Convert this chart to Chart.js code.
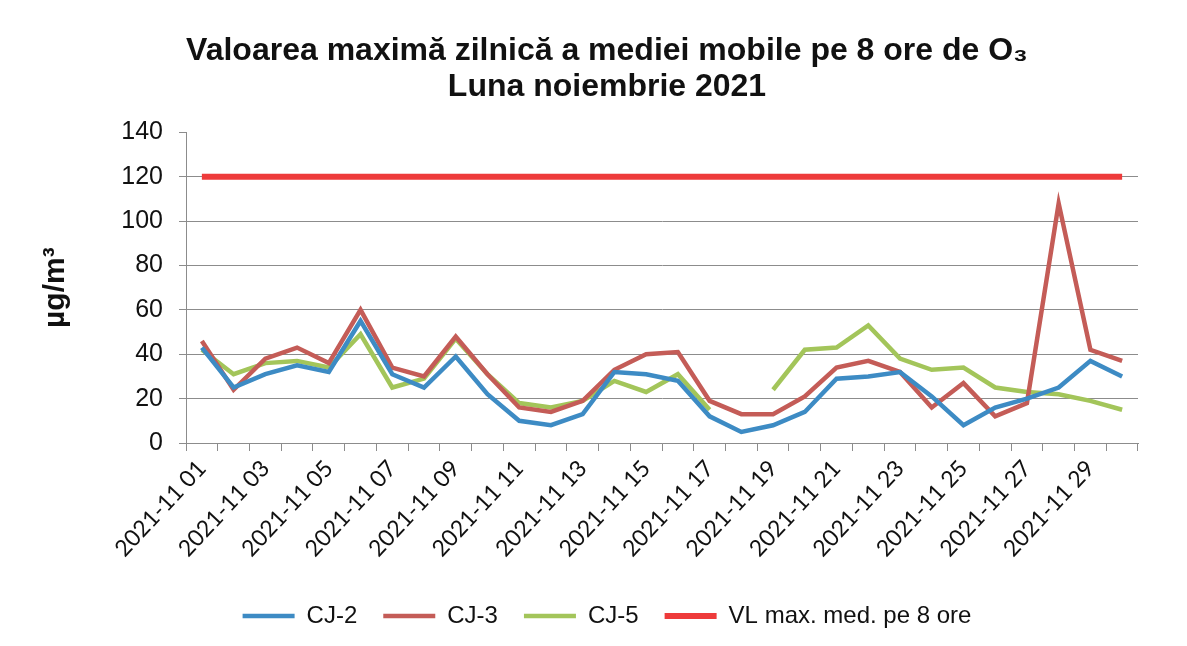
<!DOCTYPE html>
<html>
<head>
<meta charset="utf-8">
<script src="https://cdn.jsdelivr.net/npm/chart.js@4/dist/chart.umd.min.js"></script>
<style>
  html, body { margin: 0; padding: 0; background: #ffffff; }
  #wrap { width: 1187px; height: 646px; position: relative; }
</style>
</head>
<body>
<div id="wrap"><canvas id="c" width="1187" height="646"></canvas></div>
<script>
const days = ['2021-11 01','2021-11 02','2021-11 03','2021-11 04','2021-11 05','2021-11 06','2021-11 07','2021-11 08','2021-11 09','2021-11 10',
              '2021-11 11','2021-11 12','2021-11 13','2021-11 14','2021-11 15','2021-11 16','2021-11 17','2021-11 18','2021-11 19','2021-11 20',
              '2021-11 21','2021-11 22','2021-11 23','2021-11 24','2021-11 25','2021-11 26','2021-11 27','2021-11 28','2021-11 29','2021-11 30'];
const cj2 = [43, 25, 31, 35, 32, 55, 31, 25, 39, 22, 10, 8, 13, 32, 31, 28, 12, 5, 8, 14, 29, 30, 32, 21, 8, 16, 20, 25, 37, 30];
const cj3 = [46, 24, 38, 43, 36, 60, 34, 30, 48, 31, 16, 14, 19, 33, 40, 41, 19, 13, 13, 21, 34, 37, 32, 16, 27, 12, 18, 108, 42, 37];
const cj5 = [42, 31, 36, 37, 34, 49, 25, 29, 47, 31, 18, 16, 19, 28, 23, 31, 15, null, 24, 42, 43, 53, 38, 33, 34, 25, 23, 22, 19, 15];
const vl  = [120,120,120,120,120,120,120,120,120,120,120,120,120,120,120,120,120,120,120,120,120,120,120,120,120,120,120,120,120,120];
const yTicks = [0, 20, 40, 60, 80, 100, 120, 140];
const seriesNames = ['CJ-2', 'CJ-3', 'CJ-5', 'VL max. med. pe 8 ore'];
const titleLines = ['Valoarea maximă zilnică a mediei mobile pe 8 ore de O₃', 'Luna noiembrie 2021'];
const yTitle = 'µg/m³';

const colors = ['#3d8bc4', '#c45c57', '#a3c55a', '#ee3b3b'];
function ds(label, data, color, width) {
  return { label, data, borderColor: color, backgroundColor: color, borderWidth: width,
           pointRadius: 0, pointHoverRadius: 0, tension: 0, spanGaps: false, fill: false };
}

const gridColor = '#8c8c8c';
new Chart(document.getElementById('c'), {
  type: 'line',
  data: {
    labels: days,
    datasets: [
      ds(seriesNames[3], vl, colors[3], 6),
      ds(seriesNames[0], cj2, colors[0], 4.5),
      ds(seriesNames[1], cj3, colors[1], 4.5),
      ds(seriesNames[2], cj5, colors[2], 4.5)
    ]
  },
  options: {
    responsive: false,
    animation: false,
    devicePixelRatio: 1,
    layout: { padding: { left: 30, right: 3, top: 0, bottom: 8 } },
    plugins: {
      title: {
        display: true,
        text: titleLines,
        color: '#111',
        font: { family: "'Liberation Sans', Arial, sans-serif", size: 32, weight: 'bold', lineHeight: 1.13 },
        padding: { top: 33, bottom: 27 }
      },
      legend: {
        position: 'bottom',
        labels: {
          usePointStyle: true,
          pointStyle: 'line',
          pointStyleWidth: 52,
          color: '#111',
          padding: 26,
          font: { family: "'Liberation Sans', Arial, sans-serif", size: 24 },
          sort: (a, b) => seriesNames.indexOf(a.text) - seriesNames.indexOf(b.text)
        }
      },
      tooltip: { enabled: false }
    },
    scales: {
      x: {
        type: 'category',
        offset: true,
        grid: { display: true, drawOnChartArea: false, drawTicks: true, tickLength: 8, offset: true, color: gridColor },
        border: { display: true, color: gridColor, width: 1 },
        ticks: {
          autoSkip: false,
          minRotation: 47, maxRotation: 47,
          padding: 4,
          color: '#111',
          font: { family: "Lato, 'Open Sans', sans-serif", size: 23 },
          callback: function(value, index) { return index % 2 === 0 ? days[index] : ''; }
        },
        afterFit: (s) => { s.height = 135; }
      },
      y: {
        min: 0, max: 140,
        afterBuildTicks: (s) => { s.ticks = yTicks.map(v => ({ value: v })); },
        grid: {
          color: (ctx) => (ctx.tick && ctx.tick.value === 140) ? 'rgba(0,0,0,0)' : gridColor,
          tickColor: gridColor,
          drawTicks: true, tickLength: 7, lineWidth: 1
        },
        border: { display: true, color: gridColor, width: 1 },
        ticks: {
          padding: 16,
          color: '#111',
          font: { family: "'Liberation Sans', Arial, sans-serif", size: 25 }
        },
        title: {
          display: true,
          text: yTitle,
          color: '#111',
          font: { family: "'Liberation Sans', Arial, sans-serif", size: 30, weight: 'bold', lineHeight: 1.2 },
          padding: { top: 8, bottom: 0 }
        },
        afterFit: (s) => { s.width = 156; }
      },
      y2: {
        position: 'right',
        display: true,
        grid: { display: false, drawTicks: false },
        border: { display: false },
        ticks: { display: false },
        afterFit: (s) => { s.width = 46; }
      }
    }
  }
});
</script>
</body>
</html>
